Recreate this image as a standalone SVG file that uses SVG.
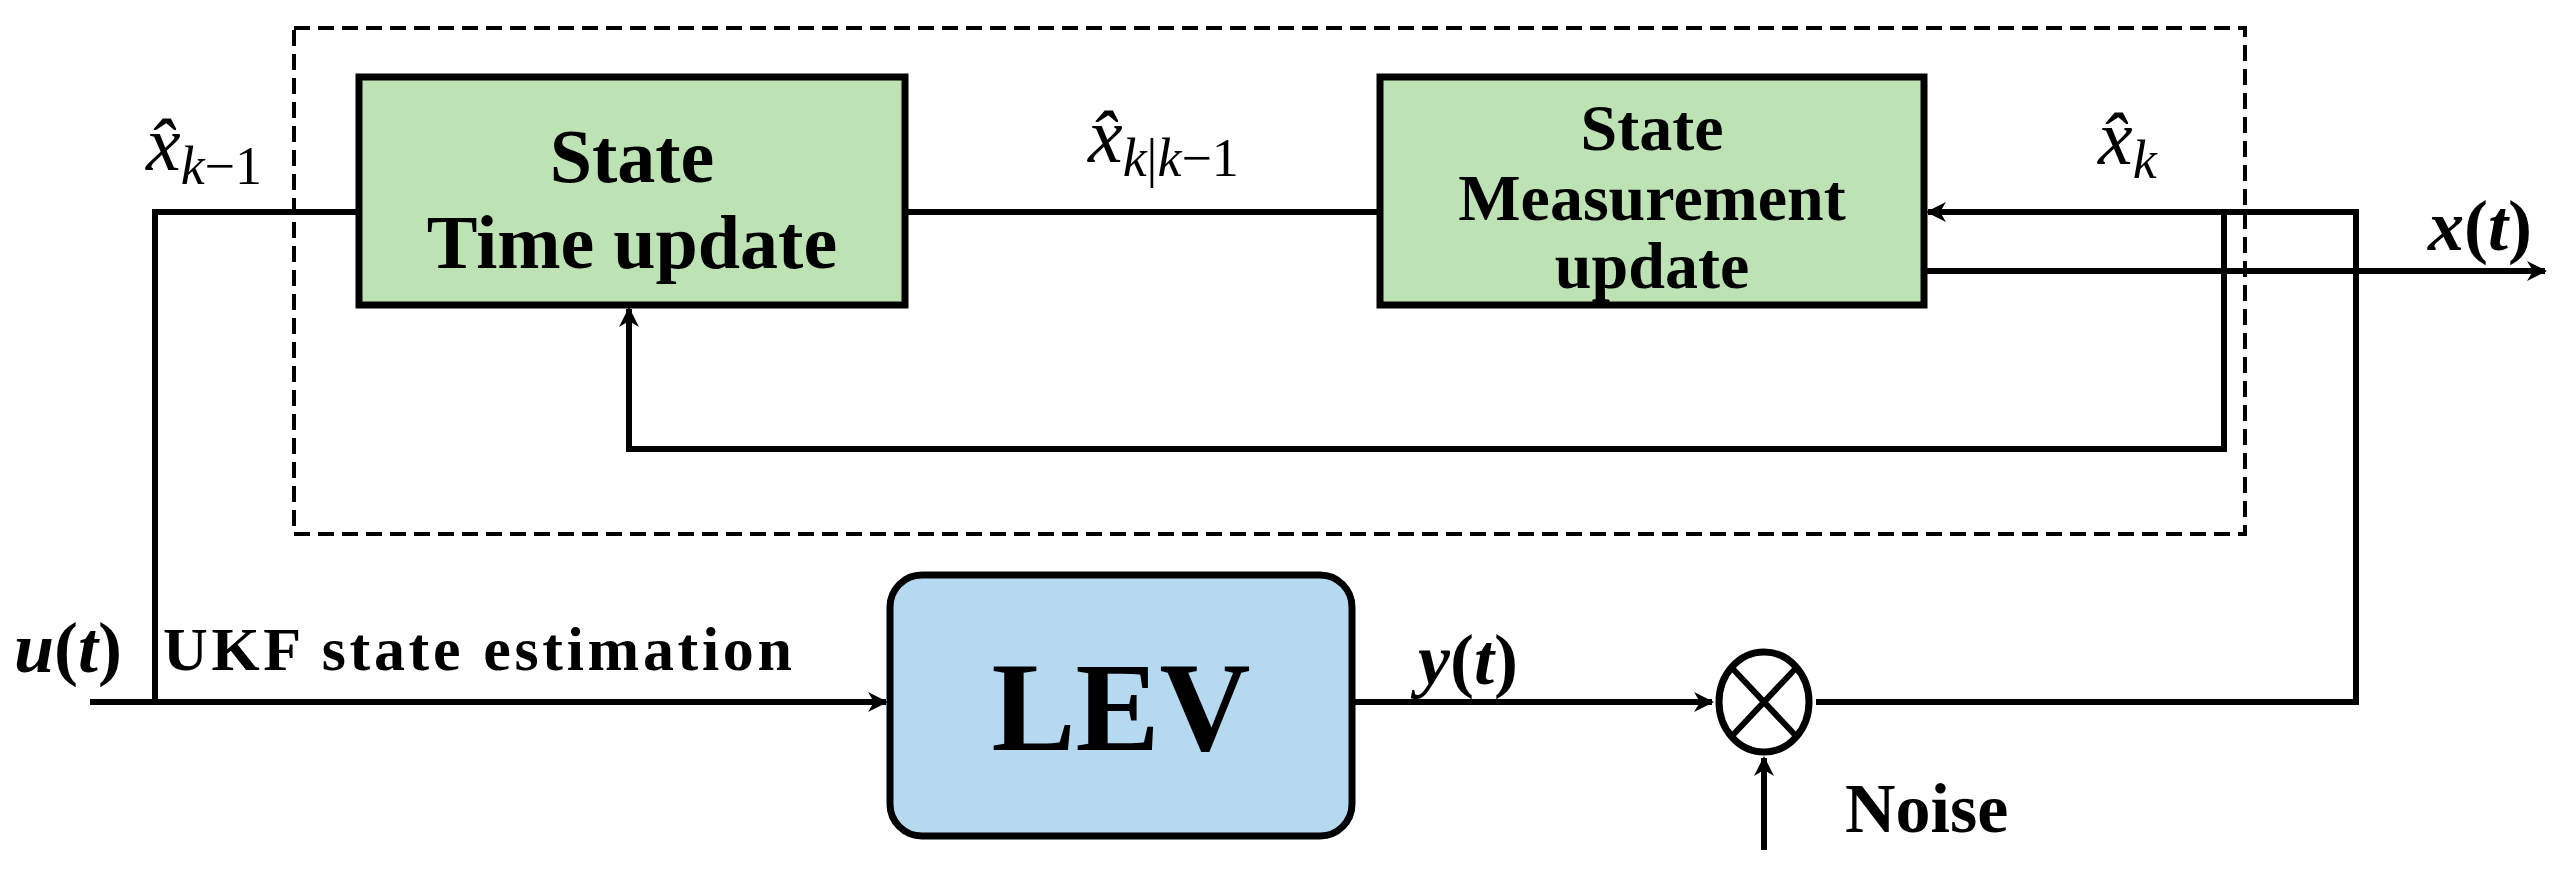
<svg xmlns="http://www.w3.org/2000/svg" width="2560" height="870" viewBox="0 0 2560 870">
<style>
.w{stroke:#000;stroke-width:6;fill:none}
.b{font-family:"Liberation Serif",serif;font-weight:bold;fill:#000}
.i{font-family:"Liberation Serif",serif;font-style:italic;fill:#000}
</style>
<defs>
<marker id="a" viewBox="0 0 20 20" refX="18" refY="10" markerWidth="20" markerHeight="20" markerUnits="userSpaceOnUse" orient="auto"><path d="M0,0 L20,10 L0,20 L6,10 Z" fill="#000"/></marker>
</defs>
<rect x="294" y="28" width="1951" height="506" fill="none" stroke="#000" stroke-width="4" stroke-dasharray="16,8"/>
<g id="connectors">
<path class="w" d="M90,702 H886" marker-end="url(#a)"/>
<path class="w" d="M155,702 V212 H359"/>
<path class="w" d="M905,212 H1380"/>
<path class="w" d="M1816,702 H2356 V212 H1928" marker-end="url(#a)"/>
<path class="w" d="M2224,212 V449 H629 V309" marker-end="url(#a)"/>
<path class="w" d="M1924,271 H2545" marker-end="url(#a)"/>
<path class="w" d="M1352,702 H1712" marker-end="url(#a)"/>
<path class="w" d="M1764,850 V758" marker-end="url(#a)"/>
</g>
<g id="time">
<rect x="359" y="77" width="546" height="228" fill="#bde3b5" stroke="#000" stroke-width="7"/>
<text class="b" font-size="76" x="632" y="182" text-anchor="middle">State</text>
<text class="b" font-size="76" x="632" y="268" text-anchor="middle">Time update</text>
</g>
<g id="meas">
<rect x="1380" y="77" width="544" height="228" fill="#bde3b5" stroke="#000" stroke-width="7"/>
<text class="b" font-size="66" x="1652" y="150" text-anchor="middle">State</text>
<text class="b" font-size="66" x="1652" y="220" text-anchor="middle">Measurement</text>
<text class="b" font-size="66" x="1652" y="288" text-anchor="middle">update</text>
</g>
<g id="lev">
<rect x="890" y="575" width="462" height="261" rx="32" fill="#b5d9f0" stroke="#000" stroke-width="7"/>
<text class="b" font-size="126" x="1121" y="750" text-anchor="middle">LEV</text>
</g>
<g id="mult">
<ellipse cx="1764" cy="702" rx="45" ry="50" fill="#fff" stroke="#000" stroke-width="7"/>
<path class="w" d="M1732,668 L1796,736 M1796,668 L1732,736"/>
</g>
<g id="labels">
<text class="i" font-size="78" x="146" y="170">x̂<tspan font-size="54" dy="14">k</tspan><tspan font-size="54" font-style="normal">−1</tspan></text>
<text class="i" font-size="78" x="1088" y="162">x̂<tspan font-size="54" dy="14">k</tspan><tspan font-size="54" font-style="normal">|</tspan><tspan font-size="54">k</tspan><tspan font-size="54" font-style="normal">−1</tspan></text>
<text class="i" font-size="78" x="2098" y="164">x̂<tspan font-size="54" dy="14">k</tspan></text>
<text class="b" font-size="72" x="2428" y="250"><tspan font-style="italic">x</tspan>(<tspan font-style="italic">t</tspan>)</text>
<text class="b" font-size="72" x="14" y="672"><tspan font-style="italic">u</tspan>(<tspan font-style="italic">t</tspan>)</text>
<text class="b" font-size="62" x="163" y="670" textLength="629">UKF state estimation</text>
<text class="b" font-size="72" x="1418" y="684"><tspan font-style="italic">y</tspan>(<tspan font-style="italic">t</tspan>)</text>
<text class="b" font-size="70" x="1845" y="832">Noise</text>
</g>
</svg>
